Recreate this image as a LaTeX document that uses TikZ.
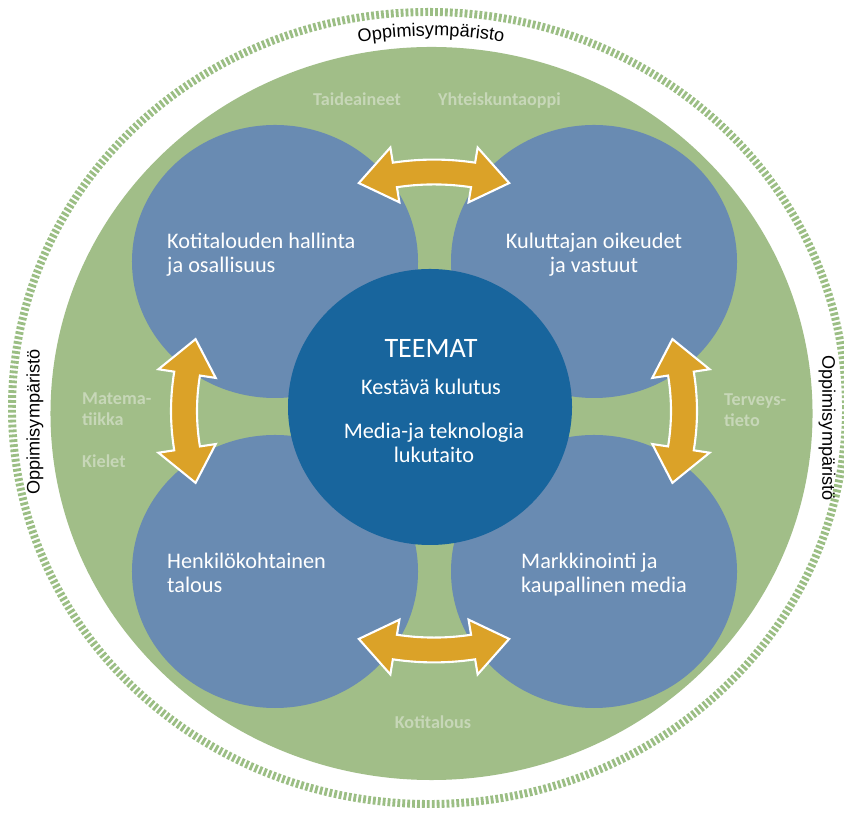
\documentclass[tikz,border=0pt]{standalone}
\usepackage{fontspec}
\setmainfont{Carlito}
\newfontfamily\arialf{Liberation Sans}
\usetikzlibrary{decorations.text}
\definecolor{bggreen}{RGB}{161,190,136}
\definecolor{ringgreen}{RGB}{155,190,132}
\definecolor{circblue}{RGB}{105,139,178}
\definecolor{coreblue}{RGB}{24,101,157}
\definecolor{arrowor}{RGB}{219,162,40}
\definecolor{labgreen}{RGB}{199,215,184}
\newcommand\dblarrowpath{plot[domain=99:81,samples=15] (\x:263) -- (81:279) -- (72.5:250) -- (81:221) -- plot[domain=81:99,samples=15] (\x:237) -- (99:221) -- (107.5:250) -- (99:279) -- cycle}
\begin{document}
\begin{tikzpicture}[x=0.03cm, y=0.03cm,
  circtext/.style={text=white, font=\fontsize{19}{21.25}\selectfont, inner sep=0pt},
  coretext/.style={text=white, font=\fontsize{19}{21.25}\selectfont, inner sep=0pt, align=center},
  subjtext/.style={text=labgreen, font=\bfseries\fontsize{15.5}{18.7}\selectfont, inner sep=0pt, align=left},
  envtext/.style={font=\arialf\fontsize{15.5}{18}\selectfont, inner sep=0pt},
  arrowshape/.style={fill=arrowor, draw=white, line width=1.8pt, line join=miter}]
\useasboundingbox (0,0) rectangle (844,821);
\fill[white] (0,0) rectangle (844,821);
% outer dashed ring
\draw[ringgreen, line width=6.8pt, dash pattern=on 2.4pt off 1.8pt] (429,413) ellipse[x radius=12.51cm, y radius=11.88cm];
% green disc
\fill[bggreen] (431.5,407.5) ellipse[x radius=11.43cm, y radius=10.995cm];
% four theme circles
\fill[circblue] (275,559.5) ellipse[x radius=4.29cm, y radius=4.095cm];
\fill[circblue] (594,559.5) ellipse[x radius=4.29cm, y radius=4.095cm];
\fill[circblue] (275,249.5) ellipse[x radius=4.29cm, y radius=4.095cm];
\fill[circblue] (594,249.5) ellipse[x radius=4.29cm, y radius=4.095cm];
% core circle
\fill[coreblue] (430,414) ellipse[x radius=4.26cm, y radius=4.14cm];
% curved double arrows
\begin{scope}[shift={(434,410)}, yscale=0.956]
  \foreach \r in {0,90,180,270}{
    \begin{scope}[rotate=\r]
      \filldraw[arrowshape] \dblarrowpath;
    \end{scope}
  }
\end{scope}
% circle texts (anchor base = baseline of last line)
\node[circtext, align=left, anchor=base west] (tl) at (167,548) {Kotitalouden hallinta\\ja osallisuus};
\node[circtext, align=center, anchor=base] (tr) at (594,548) {Kuluttajan oikeudet\\ja vastuut};
\node[circtext, align=left, anchor=base west] (bl) at (167,228) {Henkilökohtainen\\talous};
\node[circtext, align=left, anchor=base west] (br) at (521,228) {Markkinointi ja\\kaupallinen media};
% core texts
\node[coretext, font=\fontsize{24}{28}\selectfont, anchor=base] (teemat) at (431,463) {TEEMAT};
\node[coretext, anchor=base] (kest) at (431,426) {Kestävä kulutus};
\node[coretext, anchor=base] (media) at (434,358) {Media-ja teknologia\\lukutaito};
% subject labels
\node[subjtext, anchor=base west] (taide) at (313,715) {Taideaineet};
\node[subjtext, anchor=base west] (yht) at (438,715) {Yhteiskuntaoppi};
\node[subjtext, anchor=base west] (mat) at (82,395) {Matema-\\tiikka};
\node[subjtext, anchor=base west] (kiel) at (82,353) {Kielet};
\node[subjtext, anchor=base west] (terv) at (724,394) {Terveys-\\tieto};
\node[subjtext, anchor=base] (koti) at (433,92) {Kotitalous};
% learning environment labels
\node[envtext, rotate=90] (envl) at (35,399) {Oppimisympäristö};
\node[envtext, rotate=-90] (envr) at (827,393) {Oppimisympäristö};
\path[decorate, decoration={text along path, text align=center,
  text={|\arialf\fontsize{15.5}{18}\selectfont|Oppimisympäristo}}]
  (431,411) ++(118:11.76cm and 11.22cm) arc[start angle=118, end angle=62, x radius=11.76cm, y radius=11.22cm];
\end{tikzpicture}
\end{document}
